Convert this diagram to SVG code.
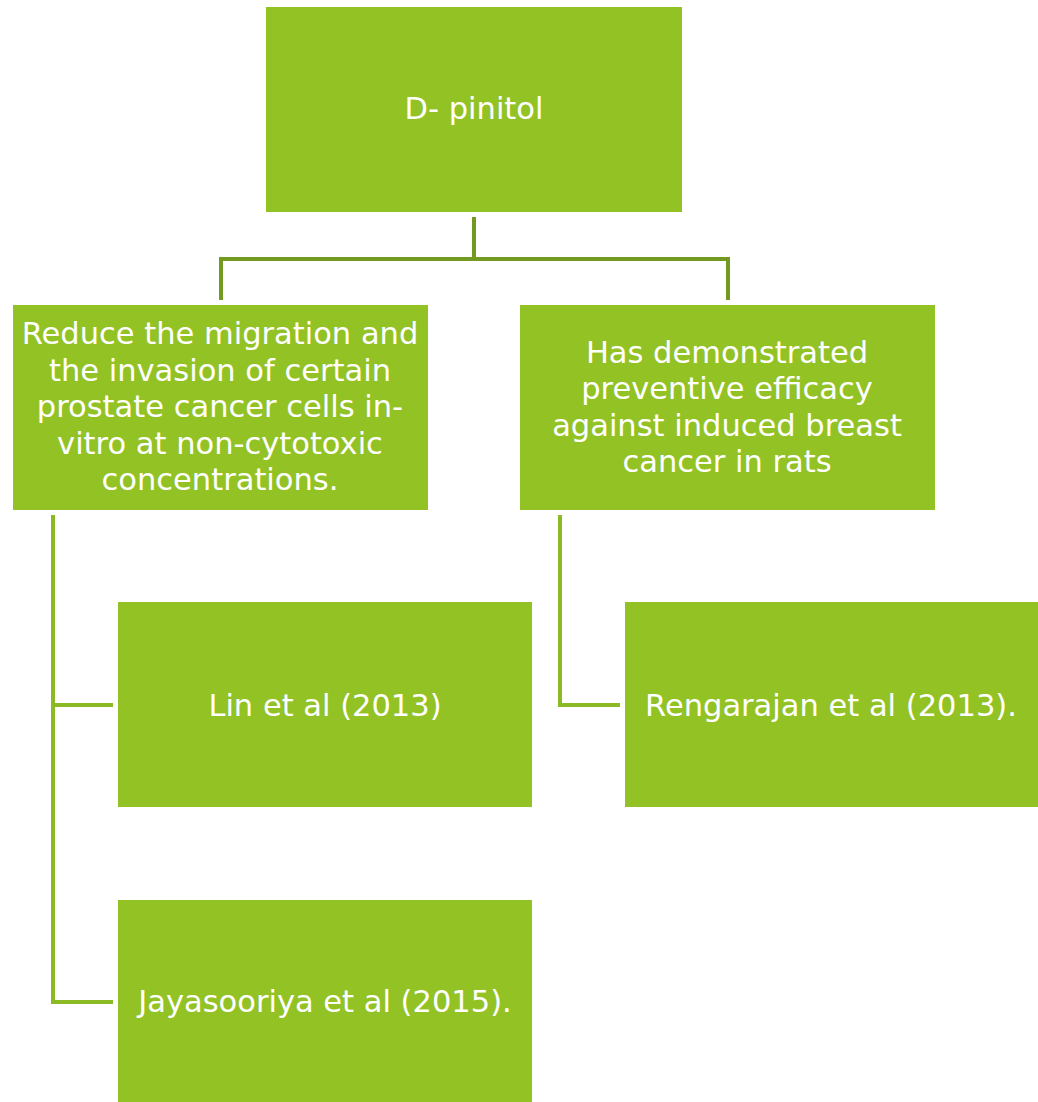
<svg xmlns="http://www.w3.org/2000/svg" width="1038" height="1102" viewBox="0 0 1038 1102">
<style>
.box{fill:#93C225}
.t{font-family:"DejaVu Sans",sans-serif;font-size:30.5px;fill:#ffffff;text-anchor:middle}
.c1{fill:none;stroke:#729A20;stroke-width:4}
.c2{fill:none;stroke:#8CBA24;stroke-width:4}
</style>
<rect width="1038" height="1102" fill="#ffffff"/>
<g id="connectors">
<path class="c1" d="M474,217 V259 M221,300 V259 H728 V300"/>
<path class="c2" d="M53,515 V1002 H113 M53,705 H113"/>
<path class="c2" d="M560,515 V705 H620"/>
</g>
<g id="root"><rect class="box" x="266" y="7" width="416" height="205"/><text class="t" x="474" y="119">D- pinitol</text></g>
<g id="left"><rect class="box" x="13" y="305" width="415" height="205"/>
<text class="t" x="220"><tspan x="220" y="344">Reduce the migration and</tspan><tspan x="220" y="381">the invasion of certain</tspan><tspan x="220" y="417">prostate cancer cells in-</tspan><tspan x="220" y="454">vitro at non-cytotoxic</tspan><tspan x="220" y="490">concentrations.</tspan></text></g>
<g id="right"><rect class="box" x="520" y="305" width="415" height="205"/>
<text class="t" x="727"><tspan x="727" y="363">Has demonstrated</tspan><tspan x="727" y="399">preventive efficacy</tspan><tspan x="727" y="436">against induced breast</tspan><tspan x="727" y="472">cancer in rats</tspan></text></g>
<g id="lin"><rect class="box" x="118" y="602" width="414" height="205"/><text class="t" x="325" y="716">Lin et al (2013)</text></g>
<g id="rengarajan"><rect class="box" x="625" y="602" width="413" height="205"/><text class="t" x="831" y="716">Rengarajan et al (2013).</text></g>
<g id="jayasooriya"><rect class="box" x="118" y="900" width="414" height="202"/><text class="t" x="325" y="1012">Jayasooriya et al (2015).</text></g>
</svg>
